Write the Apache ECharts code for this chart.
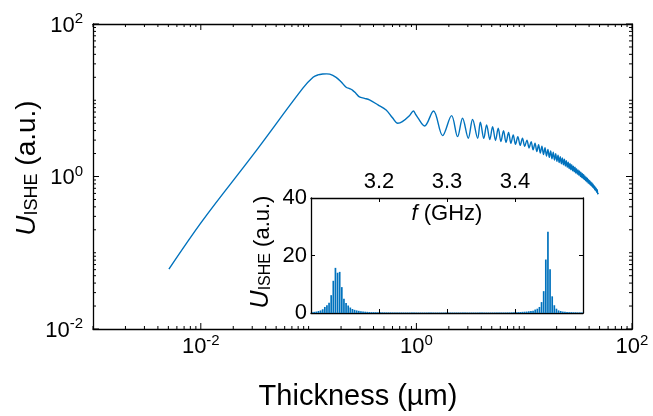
<!DOCTYPE html>
<html lang="en">
<head>
  <meta charset="UTF-8">
  <title>U_ISHE vs thickness</title>
</head>
<body style="margin:0;background:#fff;">
  <div id="chart" style="width: 653px;height: 416px;"></div>
</body>
<script src="https://cdn.jsdelivr.net/npm/echarts@6/dist/echarts.min.js"></script>
<script>
  // main curve: thickness (um) vs U_ISHE (a.u.)
  var thickness = [
    0.00506, 0.0105, 0.0305, 0.0885, 0.110, 0.122, 0.135, 0.147, 0.157, 0.180,
    0.200, 0.223, 0.240, 0.255, 0.275, 0.296, 0.330, 0.367, 0.44, 0.524,
    0.60, 0.671, 0.74, 0.861, 0.938, 0.98, 1.03, 1.19, 1.44, 1.75,
    2.12, 2.41, 2.68, 3.03, 3.32, 3.70, 3.92, 4.22, 4.48, 4.80,
    5.09, 5.42, 5.74, 6.08, 6.43, 6.78, 7.16, 7.53, 7.91, 8.30,
    8.73, 9.18, 9.64,
    10.1, 10.6, 11.1, 11.6, 12.1, 12.6, 13.1, 13.6, 14.1, 14.6,
    15.1, 15.6, 16.1, 16.6, 17.1, 17.6, 18.1, 18.6, 19.1, 19.6,
    20.1, 20.6, 21.1, 21.6, 22.1, 22.6, 23.1, 23.6, 24.1, 24.6,
    25.1, 25.6, 26.1, 26.6, 27.1, 27.6, 28.1, 28.6, 29.1, 29.6,
    30.1, 30.6, 31.1, 31.6, 32.1, 32.6, 33.1, 33.6, 34.1, 34.6,
    35.1, 35.6, 36.1, 36.6, 37.1, 37.6, 38.1, 38.6, 39.1, 39.6,
    40.1, 40.6, 41.1, 41.6, 42.1, 42.6, 43.1, 43.6, 44.1, 44.6,
    45.1, 45.6, 46.1, 46.6, 47.1, 47.6, 48.1, 48.8
  ];
  var uIshe = [
    0.061, 0.27, 1.92, 14.4, 20.0, 21.5, 22.1, 22.2, 22.0, 20.0,
    17.5, 14.8, 14.2, 13.6, 12.3, 11.1, 10.6, 10.1, 8.7, 7.46,
    5.9, 5.0, 5.25, 6.28, 7.24, 6.6, 5.92, 4.60, 7.24, 3.44,
    6.28, 3.33, 5.81, 3.18, 5.60, 3.18, 5.15, 3.16, 4.75, 3.06,
    4.51, 2.97, 4.30, 2.88, 4.00, 2.80, 3.77, 2.72, 3.51, 2.64,
    3.33, 2.56, 3.18,
    2.48, 3.00, 2.37, 2.87, 2.24, 2.74, 2.12, 2.61, 2.03, 2.50,
    1.94, 2.39, 1.86, 2.27, 1.78, 2.17, 1.71, 2.08, 1.64, 1.99,
    1.58, 1.90, 1.52, 1.82, 1.47, 1.75, 1.42, 1.68, 1.37, 1.61,
    1.32, 1.54, 1.27, 1.48, 1.23, 1.43, 1.19, 1.37, 1.15, 1.32,
    1.11, 1.27, 1.07, 1.22, 1.04, 1.18, 1.00, 1.14, 0.97, 1.10,
    0.94, 1.06, 0.91, 1.02, 0.88, 0.98, 0.85, 0.95, 0.82, 0.91,
    0.80, 0.88, 0.77, 0.85, 0.75, 0.82, 0.72, 0.79, 0.70, 0.76,
    0.67, 0.73, 0.65, 0.70, 0.62, 0.67, 0.59, 0.61
  ];

  // inset: spectrum, f from 3.1 GHz in steps of 1/320 GHz
  var fStart = 3.1;
  var fStep = 0.003125;
  var insetU = [
    0.3, 0.4, 0.5, 0.7, 0.9, 1.3, 2.1, 2.7, 3.6, 6.2,
    11.2, 15.7, 14.0, 14.3, 9.0, 5.0, 3.5, 2.6, 1.9, 1.4,
    1.1, 0.9, 0.75, 0.6, 0.5, 0.45, 0.4, 0.35, 0.3, 0.3,
    0.28, 0.25, 0.25, 0.22, 0.22, 0.2, 0.2, 0.2, 0.18, 0.18,
    0.18, 0.17, 0.17, 0.16, 0.16, 0.16, 0.15, 0.15, 0.15, 0.15,
    0.15, 0.15, 0.15, 0.15, 0.15, 0.15, 0.15, 0.15, 0.15, 0.15,
    0.15, 0.15, 0.15, 0.15, 0.15, 0.15, 0.15, 0.15, 0.15, 0.15,
    0.15, 0.15, 0.15, 0.15, 0.15, 0.15, 0.15, 0.15, 0.15, 0.15,
    0.15, 0.15, 0.15, 0.15, 0.15, 0.16, 0.16, 0.16, 0.17, 0.17,
    0.17, 0.18, 0.2, 0.2, 0.22, 0.25, 0.28, 0.3, 0.35, 0.4,
    0.45, 0.5, 0.6, 0.7, 0.8, 1.2, 1.5, 2.1, 3.8, 7.6,
    18.6, 28.3, 15.2, 5.8, 2.7, 1.5, 0.9, 0.7, 0.5, 0.4,
    0.35, 0.3, 0.3, 0.25, 0.25, 0.2, 0.2, 0.2
  ];

  var FONT = 'Liberation Sans';
  var BLUE = '#0072BD';

  var mainData = [];
  for (var i = 0; i < thickness.length; i++) {
    mainData.push([thickness[i], uIshe[i]]);
  }
  var insetData = [];
  for (var j = 0; j < insetU.length; j++) {
    insetData.push([fStart + (j + 0.5) * fStep, insetU[j]]);
  }

  // log-axis ticks: majors every 2 decades, minors 2..9 and odd decades
  var xTicks = [], yTicks = [];
  function addTicks(list, lo, hi, yAxis) {
    for (var e = lo; e <= hi; e++) {
      var base = Math.pow(10, e);
      var major = (e % 2 === 0);
      list.push(yAxis ? [1, base, major ? 6 : 3] : [base, 1, major ? 6 : 3]);
      if (e < hi) {
        for (var m = 2; m <= 9; m++) {
          list.push(yAxis ? [1, base * m, 3] : [base * m, 1, 3]);
        }
      }
    }
  }
  addTicks(xTicks, -3, 2, false);
  addTicks(yTicks, -2, 2, true);

  function tickRenderer(isX) {
    return function (params, api) {
      var cs = params.coordSys;
      var len = api.value(2);
      var segs;
      if (isX) {
        var px = api.coord([api.value(0), 1])[0];
        segs = [[px, cs.y + cs.height, px, cs.y + cs.height - len], [px, cs.y, px, cs.y + len]];
      } else {
        var py = api.coord([1, api.value(1)])[1];
        segs = [[cs.x, py, cs.x + len, py], [cs.x + cs.width, py, cs.x + cs.width - len, py]];
      }
      return {
        type: 'group',
        children: segs.map(function (s) {
          return {
            type: 'line',
            shape: { x1: s[0], y1: s[1], x2: s[2], y2: s[3] },
            style: { stroke: '#000', lineWidth: 1 }
          };
        })
      };
    };
  }

  function powLabel(v) {
    var e = Math.round(Math.log10(v));
    if (e % 2 !== 0) return '';
    return '{b|10}{e|' + (e < 0 ? '-' + (-e) : e) + '}';
  }
  var powRich = {
    b: { fontSize: 22, fontFamily: FONT, color: '#000', lineHeight: 25, verticalAlign: 'bottom' },
    e: { fontSize: 15, fontFamily: FONT, color: '#000', lineHeight: 15, verticalAlign: 'top' }
  };

  var lineAx = { onZero: false, lineStyle: { color: '#000', width: 1.3 } };
  var insetLabel = { fontSize: 22, fontFamily: FONT, color: '#000' };

  var myChart = echarts.init(document.getElementById('chart'), null, { renderer: 'canvas' });
  myChart.setOption({
    animation: false,
    backgroundColor: '#fff',
    grid: [
      { left: 93, right: 21, top: 24, bottom: 87 },
      { left: 311, right: 70, top: 198, bottom: 103, show: true, backgroundColor: '#fff', borderWidth: 0, z: 5 }
    ],
    xAxis: [
      { gridIndex: 0, type: 'log', logBase: 10, min: 0.001, max: 100, interval: 1, position: 'bottom',
        axisLine: lineAx, axisTick: { show: false }, splitLine: { show: false },
        axisLabel: { formatter: powLabel, rich: powRich, margin: 4 } },
      { gridIndex: 0, type: 'log', logBase: 10, min: 0.001, max: 100, interval: 1, position: 'top',
        axisLine: lineAx, axisTick: { show: false }, axisLabel: { show: false }, splitLine: { show: false } },
      { gridIndex: 1, type: 'value', min: 3.1, max: 3.5, interval: 0.1, position: 'top', z: 6,
        axisLine: lineAx, axisTick: { inside: true, length: 4, lineStyle: { color: '#000' } },
        splitLine: { show: false },
        axisLabel: Object.assign({ showMinLabel: false, showMaxLabel: false, margin: 5 }, insetLabel) },
      { gridIndex: 1, type: 'value', min: 3.1, max: 3.5, interval: 0.1, position: 'bottom', z: 6,
        axisLine: lineAx, axisTick: { inside: true, length: 4, lineStyle: { color: '#000' } },
        splitLine: { show: false }, axisLabel: { show: false } }
    ],
    yAxis: [
      { gridIndex: 0, type: 'log', logBase: 10, min: 0.01, max: 100, interval: 1, position: 'left',
        axisLine: lineAx, axisTick: { show: false }, splitLine: { show: false },
        axisLabel: { formatter: powLabel, rich: powRich, margin: 10 } },
      { gridIndex: 0, type: 'log', logBase: 10, min: 0.01, max: 100, interval: 1, position: 'right',
        axisLine: lineAx, axisTick: { show: false }, axisLabel: { show: false }, splitLine: { show: false } },
      { gridIndex: 1, type: 'value', min: 0, max: 40, interval: 20, position: 'left', z: 6,
        axisLine: lineAx, axisTick: { inside: true, length: 4, lineStyle: { color: '#000' } },
        splitLine: { show: false },
        axisLabel: Object.assign({ margin: 4 }, insetLabel) },
      { gridIndex: 1, type: 'value', min: 0, max: 40, interval: 20, position: 'right', z: 6,
        axisLine: lineAx, axisTick: { inside: true, length: 4, lineStyle: { color: '#000' } },
        splitLine: { show: false }, axisLabel: { show: false } }
    ],
    series: [
      { type: 'line', xAxisIndex: 0, yAxisIndex: 0, data: mainData, showSymbol: false, smooth: 0.35,
        lineStyle: { color: BLUE, width: 1.4 }, z: 2 },
      { type: 'custom', xAxisIndex: 0, yAxisIndex: 0, data: xTicks, renderItem: tickRenderer(true),
        encode: { x: 0, y: 1 }, clip: false, silent: true, z: 3 },
      { type: 'custom', xAxisIndex: 0, yAxisIndex: 0, data: yTicks, renderItem: tickRenderer(false),
        encode: { x: 0, y: 1 }, clip: false, silent: true, z: 3 },
      { type: 'bar', xAxisIndex: 2, yAxisIndex: 2, data: insetData, barWidth: 1.7,
        itemStyle: { color: BLUE }, z: 6 }
    ],
    graphic: [
      { type: 'text', x: 358, y: 397, z: 10,
        style: { text: 'Thickness (\u00b5m)', font: '29px "Liberation Sans"', fill: '#000',
          align: 'center', verticalAlign: 'middle' } },
      { type: 'text', x: 26, y: 168, rotation: Math.PI / 2, z: 10,
        style: {
          text: '{u|U}{s|ISHE}{r| (a.u.)}', align: 'center', verticalAlign: 'middle',
          rich: {
            u: { fontSize: 28, fontFamily: FONT, fontStyle: 'italic', fill: '#000', lineHeight: 30, verticalAlign: 'bottom' },
            s: { fontSize: 18, fontFamily: FONT, fill: '#000', lineHeight: 14, verticalAlign: 'bottom' },
            r: { fontSize: 28, fontFamily: FONT, fill: '#000', lineHeight: 30, verticalAlign: 'bottom' }
          }
        } },
      { type: 'text', x: 447, y: 214, z: 10,
        style: {
          text: '{i|f}{r| (GHz)}', align: 'center', verticalAlign: 'middle',
          rich: {
            i: { fontSize: 22, fontFamily: FONT, fontStyle: 'italic', fill: '#000' },
            r: { fontSize: 22, fontFamily: FONT, fill: '#000' }
          }
        } },
      { type: 'text', x: 261, y: 252, rotation: Math.PI / 2, z: 10,
        style: {
          text: '{u|U}{s|ISHE}{r| (a.u.)}', align: 'center', verticalAlign: 'middle',
          rich: {
            u: { fontSize: 25, fontFamily: FONT, fontStyle: 'italic', fill: '#000', lineHeight: 26, verticalAlign: 'bottom' },
            s: { fontSize: 16, fontFamily: FONT, fill: '#000', lineHeight: 12, verticalAlign: 'bottom' },
            r: { fontSize: 22, fontFamily: FONT, fill: '#000', lineHeight: 26, verticalAlign: 'bottom' }
          }
        } }
    ]
  });
</script>
</html>
